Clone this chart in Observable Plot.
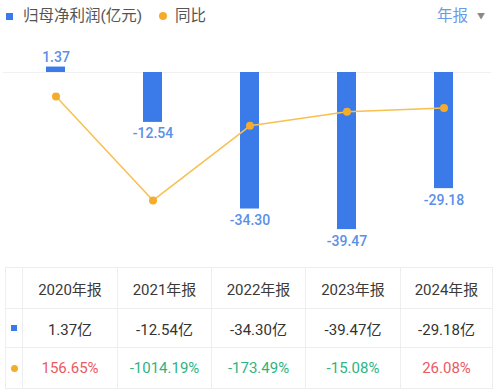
<!DOCTYPE html>
<html>
<head>
<meta charset="utf-8">
<script src="https://cdn.jsdelivr.net/npm/d3@7"></script>
<script src="https://cdn.jsdelivr.net/npm/@observablehq/plot@0.6"></script>
<style>
  html, body { margin: 0; padding: 0; background: #fff; }
  body { width: 500px; height: 391px; position: relative; overflow: hidden;
         font-family: Roboto, "Noto Sans CJK SC", sans-serif; }
  #legend { position: absolute; left: 0; top: 0; width: 500px; height: 35px; }
  .lg { position: absolute; font-size: 15.5px; color: #555; line-height: 16px; top: 8px; }
  #chart { position: absolute; left: 0; top: 35px; }
  table { position: absolute; left: 5px; top: 267px; border-collapse: collapse; table-layout: fixed; }
  td { border: 1px solid #eeeeee; text-align: center; font-size: 15px; color: #333; padding: 0; }
  tr.h td { height: 40px; color: #3a3a3a; }
  tr.r1 td { height: 38px; }
  tr.r2 td { height: 40px; }
  .red { color: #ea5a5f; }
  .green { color: #2eb482; }
</style>
</head>
<body>
<div id="legend">
  <div style="position:absolute;left:6px;top:13px;width:7px;height:7px;background:#3b7be9"></div>
  <div class="lg" style="left:23px">归母净利润(亿元)</div>
  <div style="position:absolute;left:159px;top:12px;width:8px;height:8px;border-radius:50%;background:#f5ab2c"></div>
  <div class="lg" style="left:175px">同比</div>
  <div class="lg" style="left:437px;color:#6b9be3">年报</div>
  <div class="lg" style="left:477px;font-size:8px;color:#888;top:9px">▼</div>
</div>
<div id="chart"></div>
<table id="tbl"></table>
<script>
const years = ["2020年报", "2021年报", "2022年报", "2023年报", "2024年报"];
const profit = [1.37, -12.54, -34.30, -39.47, -29.18];
const yoy = [156.65, -1014.19, -173.49, -15.08, 26.08];
const profitLabels = ["1.37", "-12.54", "-34.30", "-39.47", "-29.18"];
const profitText = ["1.37亿", "-12.54亿", "-34.30亿", "-39.47亿", "-29.18亿"];
const yoyText = ["156.65%", "-1014.19%", "-173.49%", "-15.08%", "26.08%"];

const primaryDomain = [-45, 5];
const yoyDomain = [-1590, 651];
const yoyToPrimary = d3.scaleLinear().domain(yoyDomain).range(primaryDomain);

const data = years.map((y, i) => ({
  year: y, profit: profit[i], yoy: yoy[i], yoyP: yoyToPrimary(yoy[i]), label: profitLabels[i]
}));

const chart = Plot.plot({
  width: 500,
  height: 227,
  marginTop: 17.1,
  marginBottom: 10.9,
  marginLeft: 14.1,
  marginRight: 16.1,
  x: { domain: years, paddingInner: 0.806, paddingOuter: 0.3, axis: null },
  y: { domain: primaryDomain, axis: null },
  style: { fontFamily: "Roboto, 'Noto Sans CJK SC', sans-serif", background: "transparent" },
  marks: [
    Plot.ruleY([0], { stroke: "#f0f0f0", strokeWidth: 1, insetLeft: -11, insetRight: -7 }),
    Plot.barY(data, { x: "year", y: "profit", fill: "#3b7be9" }),
    Plot.text(data.filter(d => d.profit >= 0), { x: "year", y: "profit", text: "label",
      lineAnchor: "bottom", dy: -5, fill: "#5b8fe8", fontSize: 14, fontWeight: 500 }),
    Plot.text(data.filter(d => d.profit < 0), { x: "year", y: "profit", text: "label",
      lineAnchor: "top", dy: 6, fill: "#5b8fe8", fontSize: 14, fontWeight: 500 }),
    Plot.lineY(data, { x: "year", y: "yoyP", stroke: "#f8c04f", strokeWidth: 1.5 }),
    Plot.dot(data, { x: "year", y: "yoyP", r: 4, fill: "#f5ab2c", stroke: "none" })
  ]
});
document.getElementById("chart").appendChild(chart);

const widths = [17, 95, 94, 94, 95, 92];
const tbl = document.getElementById("tbl");
const cg = document.createElement("colgroup");
widths.forEach(w => { const c = document.createElement("col"); c.style.width = w + "px"; cg.appendChild(c); });
tbl.appendChild(cg);
function row(cls, first, cells, cellClass) {
  const tr = document.createElement("tr");
  tr.className = cls;
  const td0 = document.createElement("td");
  td0.innerHTML = first;
  tr.appendChild(td0);
  cells.forEach((t, i) => {
    const td = document.createElement("td");
    td.textContent = t;
    if (cellClass) td.className = cellClass(i);
    tr.appendChild(td);
  });
  tbl.appendChild(tr);
}
row("h", "", years);
row("r1", '<div style="width:6px;height:6px;background:#3b7be9;margin:0 auto"></div>', profitText);
row("r2", '<div style="width:7px;height:7px;border-radius:50%;background:#f5ab2c;margin:0 auto"></div>', yoyText,
    i => yoy[i] >= 0 ? "red" : "green");
</script>
</body>
</html>
